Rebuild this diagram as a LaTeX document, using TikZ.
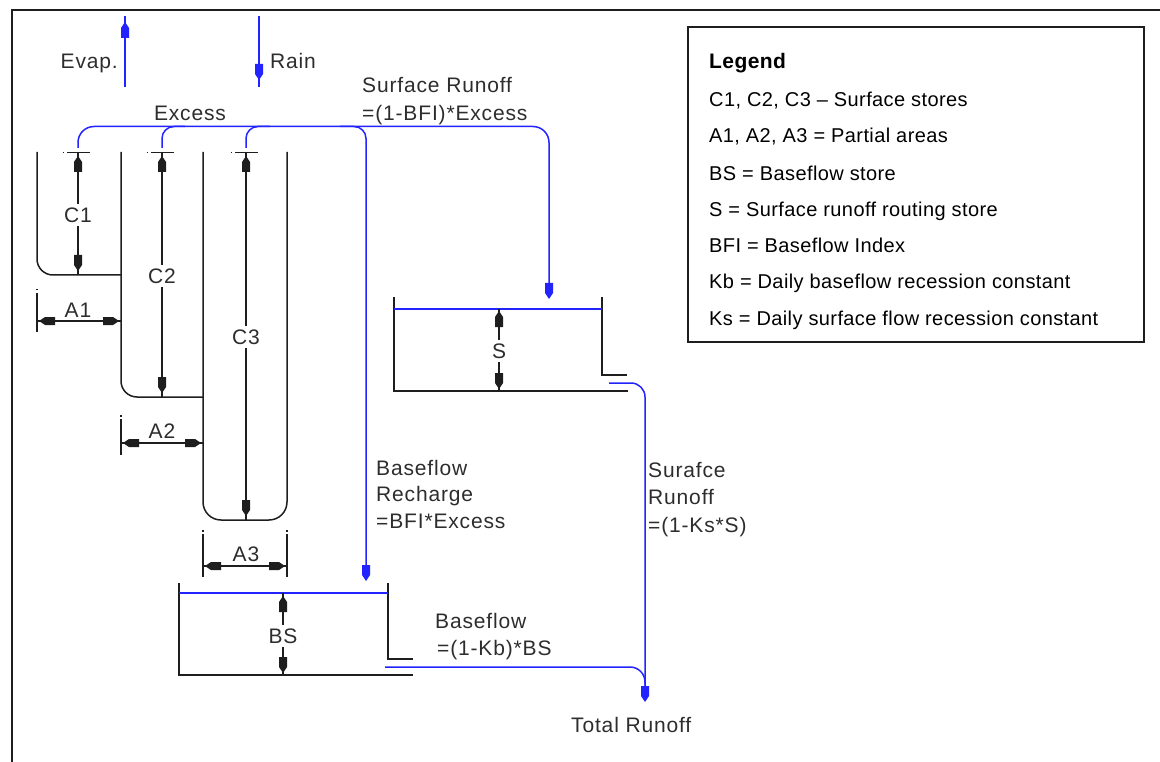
\documentclass[tikz,border=0pt]{standalone}
\usepackage{fontspec}
\setmainfont{Liberation Sans}
\newfontfamily\diagfont{Liberation Sans}[LetterSpace=4]
\newfontfamily\legfont{Liberation Sans}[LetterSpace=2]
\definecolor{bl}{RGB}{35,35,255}
\definecolor{ink}{RGB}{30,30,30}
\definecolor{txt}{RGB}{45,45,45}
\newcommand{\arD}[3][ink]{\fill[#1] (#2,#3) -- ++(-4,-6) -- ++(0,-10) -- ++(8,0) -- ++(0,10) -- cycle;}
\newcommand{\arU}[3][ink]{\fill[#1] (#2,#3) -- ++(-4,6) -- ++(0,10) -- ++(8,0) -- ++(0,-10) -- cycle;}
\newcommand{\arL}[3][ink]{\fill[#1] (#2,#3) -- ++(6,-4) -- ++(10,0) -- ++(0,8) -- ++(-10,0) -- cycle;}
\newcommand{\arR}[3][ink]{\fill[#1] (#2,#3) -- ++(-6,-4) -- ++(-10,0) -- ++(0,8) -- ++(10,0) -- cycle;}
\tikzset{
  wall/.style={draw=ink, line width=1.5pt},
  flow/.style={draw=bl, line width=1.5pt},
  dimln/.style={draw=ink, line width=1.2pt},
  lbl/.style={text=txt, font=\diagfont\fontsize{21}{25}\selectfont, inner sep=0pt},
  dlbl/.style={lbl, fill=white, inner sep=4pt},
  leg/.style={text=black, font=\legfont\fontsize{20}{24}\selectfont, inner sep=0pt, anchor=base west},
  frame/.style={draw=ink, line width=2pt}
}
\begin{document}
\begin{tikzpicture}[x=1pt,y=-1pt]
\useasboundingbox (0,0) rectangle (1160,762);
% outer frame
\draw[frame] (12,762) -- (12,10) -- (1160,10);
% legend
\draw[frame] (688,27) rectangle (1144,342);
\node[leg, font=\legfont\bfseries\fontsize{21}{24}\selectfont] (lg0) at (709,69) {Legend};
\node[leg] (lg1) at (709,107) {C1, C2, C3 – Surface stores};
\node[leg] (lg2) at (709,143) {A1, A2, A3 = Partial areas};
\node[leg] (lg3) at (709,181) {BS = Baseflow store};
\node[leg] (lg4) at (709,217) {S = Surface runoff routing store};
\node[leg] (lg5) at (709,253) {BFI = Baseflow Index};
\node[leg] (lg6) at (709,289) {Kb = Daily baseflow recession constant};
\node[leg] (lg7) at (709,326) {Ks = Daily surface flow recession constant};

% partial-area stores
\draw[wall, rounded corners=16pt] (37,152) -- (37,275) -- (121,275);
\draw[wall, rounded corners=16pt] (121,152) -- (121,397) -- (203,397);
\draw[wall, rounded corners=18pt] (203,152) -- (203,520) -- (287,520) -- (287,152);

% tick lines at top of C dims
\foreach \cx in {78,162,246}{
  \draw[dimln] (\cx-15.5,152.7) -- (\cx-14,152.7);
  \draw[dimln] (\cx-11,152.7) -- (\cx+12,152.7);
}
% C dimensions
\draw[dimln] (78,152.7) -- (78,275);
\arU{78}{156} \arD{78}{271}
\node[dlbl] (c1) at (78,215) {C1};
\draw[dimln] (162,152.7) -- (162,397);
\arU{162}{156} \arD{162}{393}
\node[dlbl] (c2) at (162,276) {C2};
\draw[dimln] (246,152.7) -- (246,520);
\arU{246}{156} \arD{246}{516}
\node[dlbl] (c3) at (246,337) {C3};

% A dimensions
\draw[dimln] (37,289) -- (37,290.5); \draw[dimln] (37,293) -- (37,332);
\draw[dimln] (37,321) -- (121,321);
\arL{39}{321} \arR{119}{321}
\node[lbl] (a1) at (78,310) {A1};
\draw[dimln] (121,415) -- (121,416.5); \draw[dimln] (121,419) -- (121,455);
\draw[dimln] (121,443) -- (203,443);
\arL{123}{443} \arR{201}{443}
\node[lbl] (a2) at (162,431) {A2};
\foreach \ex in {203,287}{
  \draw[dimln] (\ex,530) -- (\ex,531.5); \draw[dimln] (\ex,534) -- (\ex,577);
}
\draw[dimln] (203,566) -- (287,566);
\arL{205}{566} \arR{285}{566}
\node[lbl] (a3) at (246,554) {A3};

% surface routing store S
\draw[wall] (394,297) -- (394,391) -- (628,391);
\draw[wall] (602,297) -- (602,375) -- (627,375);
\draw[flow] (394,309) -- (602,309);
\draw[dimln] (499,309) -- (499,391);
\arU{499}{311} \arD{499}{389}
\node[dlbl] (s) at (499,351) {S};

% baseflow store BS
\draw[wall] (179,583) -- (179,675) -- (413,675);
\draw[wall] (388,583) -- (388,659) -- (413,659);
\draw[flow] (179,593) -- (388,593);
\draw[dimln] (283,593) -- (283,675);
\arU{283}{596} \arD{283}{673}
\node[dlbl] (bs) at (283,636) {BS};

% rain and evaporation
\draw[flow] (125,16) -- (125,87);
\arU[bl]{125}{22}
\draw[flow] (259,16) -- (259,87);
\arD[bl]{259}{80}
\node[lbl, anchor=base east] (evap) at (118,69) {Evap.};
\node[lbl, anchor=base west] (rain) at (270,69) {Rain};

% excess distribution
\draw[flow, rounded corners=16pt] (78,148) |- (549,126.5) -- (549,290);
\arD[bl]{549}{299}
\draw[flow, rounded corners=12pt] (162,148) |- (185,126.5);
\draw[flow, rounded corners=12pt] (246,148) |- (270,126.5);
\draw[flow, rounded corners=12pt] (340,126.5) -| (366,572);
\arD[bl]{366}{581}
\node[lbl, anchor=base] (excess) at (190,120.5) {Excess};
\node[lbl, anchor=base west] (sr1) at (362,93) {Surface Runoff};
\node[lbl, anchor=base west] (sr2) at (362,121) {=(1-BFI)*Excess};

% outflows
\draw[flow, rounded corners=14pt] (609,383) -| (645,694);
\draw[flow, rounded corners=15pt] (385,667) -| (645,694);
\arD[bl]{645}{702}

\node[lbl, anchor=base west] (br1) at (376,475) {Baseflow};
\node[lbl, anchor=base west] (br2) at (376,501) {Recharge};
\node[lbl, anchor=base west] (br3) at (376,528) {=BFI*Excess};
\node[lbl, anchor=base west] (so1) at (648,477) {Surafce};
\node[lbl, anchor=base west] (so2) at (648,504) {Runoff};
\node[lbl, anchor=base west] (so3) at (648,532) {=(1-Ks*S)};
\node[lbl, anchor=base west] (bf1) at (435,628) {Baseflow};
\node[lbl, anchor=base west] (bf2) at (437,655) {=(1-Kb)*BS};
\node[lbl, anchor=base west] (tr) at (571,732) {Total Runoff};
\end{tikzpicture}
\end{document}
